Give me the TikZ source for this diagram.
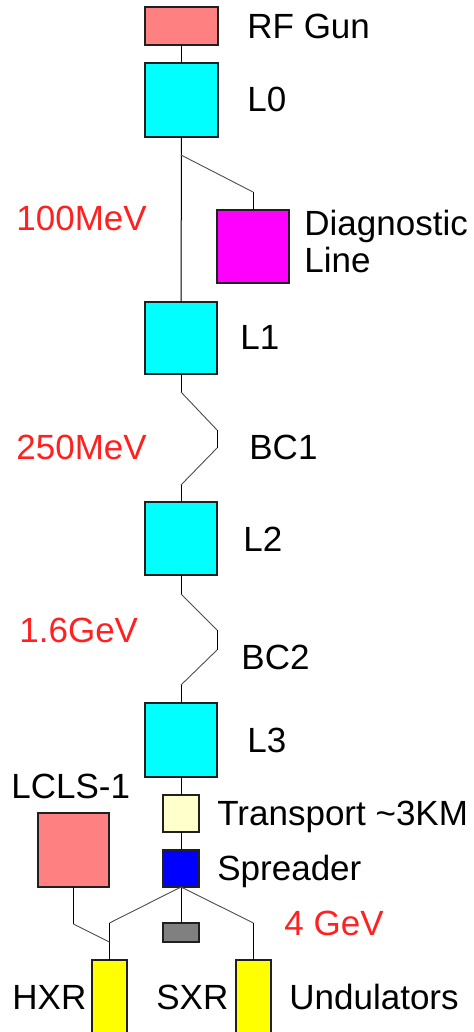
\documentclass[tikz,border=0pt]{standalone}
\usepackage{fontspec}
\setmainfont{Liberation Sans}
\definecolor{cyanbox}{HTML}{00FFFF}
\definecolor{salmon}{HTML}{FF8080}
\definecolor{magbox}{HTML}{FF00FF}
\definecolor{cream}{HTML}{FFFFCC}
\definecolor{bluebox}{HTML}{0000FF}
\definecolor{greybox}{HTML}{808080}
\definecolor{yelbox}{HTML}{FFFF00}
\definecolor{energy}{HTML}{FF2020}
\definecolor{edge}{HTML}{202020}
\tikzset{
  box/.style={draw=edge, line width=0.6pt, inner sep=0pt, outer sep=0pt},
  lab/.style={anchor=base west, inner sep=0pt, text=black, font=\fontsize{17.5}{18.5}\selectfont},
  elab/.style={lab, text=energy},
  wire/.style={draw=black, line width=0.5pt},
  slant/.style={draw=black!70, line width=0.45pt},
}
\begin{document}
\begin{tikzpicture}[x=0.5pt,y=-0.5pt]
\useasboundingbox (0,0) rectangle (474,1032);
% boxes
\node[box, fill=salmon, minimum width=36.5pt, minimum height=19pt] (rf) at (181.5,26) {};
\node[box, fill=cyanbox, minimum width=36.5pt, minimum height=37pt] (l0) at (181.5,100) {};
\node[box, fill=magbox, minimum width=36pt, minimum height=36.5pt] (diag) at (253,246.5) {};
\node[box, fill=cyanbox, minimum width=36pt, minimum height=36pt] (l1) at (181,338) {};
\node[box, fill=cyanbox, minimum width=36pt, minimum height=36.5pt] (l2) at (181,538.5) {};
\node[box, fill=cyanbox, minimum width=36pt, minimum height=37pt] (l3) at (181,740) {};
\node[box, fill=cream, minimum width=18pt, minimum height=18.5pt] (tr) at (181,813.5) {};
\node[box, fill=bluebox, minimum width=18pt, minimum height=18.5pt] (sp) at (181,868.5) {};
\node[box, fill=greybox, minimum width=18pt, minimum height=9.5pt] (dump) at (181,932.5) {};
\node[box, fill=salmon, minimum width=35.5pt, minimum height=37pt] (lcls) at (73.5,850) {};
\node[box, fill=yelbox, minimum width=17.5pt, minimum height=40pt] (hxr) at (109.5,1000) {};
\node[box, fill=yelbox, minimum width=17.5pt, minimum height=40pt] (sxr) at (253.5,1000) {};
% coordinates
\coordinate (b0) at (181,155);
\coordinate (b1) at (253,192);
\coordinate (c1a) at (181,392);
\coordinate (c1b) at (217,430);
\coordinate (c1c) at (217,448);
\coordinate (c1d) at (181,485);
\coordinate (c2a) at (181,594);
\coordinate (c2b) at (217,630);
\coordinate (c2c) at (217,650);
\coordinate (c2d) at (181,685);
\coordinate (hx) at (109.5,923);
\coordinate (sx) at (253.5,923);
\coordinate (lc) at (73.5,924);
\coordinate (lm) at (109.5,942);
% connectors
\draw[wire] (rf) -- (l0);
\draw[wire] (l0) -- (l1);
\draw[slant] (b0) -- (b1);
\draw[wire] (b1) -- (diag.north);
\draw[wire] (l1.south) -- (c1a);
\draw[slant] (c1a) -- (c1b);
\draw[wire] (c1b) -- (c1c);
\draw[slant] (c1c) -- (c1d);
\draw[wire] (c1d) -- (l2.north);
\draw[wire] (l2.south) -- (c2a);
\draw[slant] (c2a) -- (c2b);
\draw[wire] (c2b) -- (c2c);
\draw[slant] (c2c) -- (c2d);
\draw[wire] (c2d) -- (l3.north);
\draw[wire] (l3) -- (tr);
\draw[wire] (tr) -- (sp);
\draw[wire] (sp) -- (dump);
\draw[slant] (sp.south) -- (hx);
\draw[wire] (hx) -- (hxr.north);
\draw[slant] (sp.south) -- (sx);
\draw[wire] (sx) -- (sxr.north);
\draw[wire] (lcls.south) -- (lc);
\draw[slant] (lc) -- (lm);
% labels
\node[lab] (trf) at (247,39) {RF Gun};
\node[lab] (tl0) at (247,112) {L0};
\node[lab, align=left] (tdiag) at (304,272) {Diagnostic\\Line};
\node[elab] (e100) at (16,230) {100MeV};
\node[lab] (tl1) at (240,349) {L1};
\node[elab] (e250) at (16,459) {250MeV};
\node[lab] (tbc1) at (249,459) {BC1};
\node[lab] (tl2) at (243,551) {L2};
\node[elab] (e16) at (19,642) {1.6GeV};
\node[lab] (tbc2) at (241,669) {BC2};
\node[lab] (tl3) at (247,752) {L3};
\node[lab] (tlcls) at (11,798) {LCLS-1};
\node[lab] (ttr) at (217,825) {Transport \textasciitilde3KM};
\node[lab] (tsp) at (217,880) {Spreader};
\node[elab] (e4) at (284,935) {4 GeV};
\node[lab] (thxr) at (12,1009) {HXR};
\node[lab] (tsxr) at (156,1009) {SXR};
\node[lab] (tund) at (289,1009) {Undulators};
\end{tikzpicture}
\end{document}
